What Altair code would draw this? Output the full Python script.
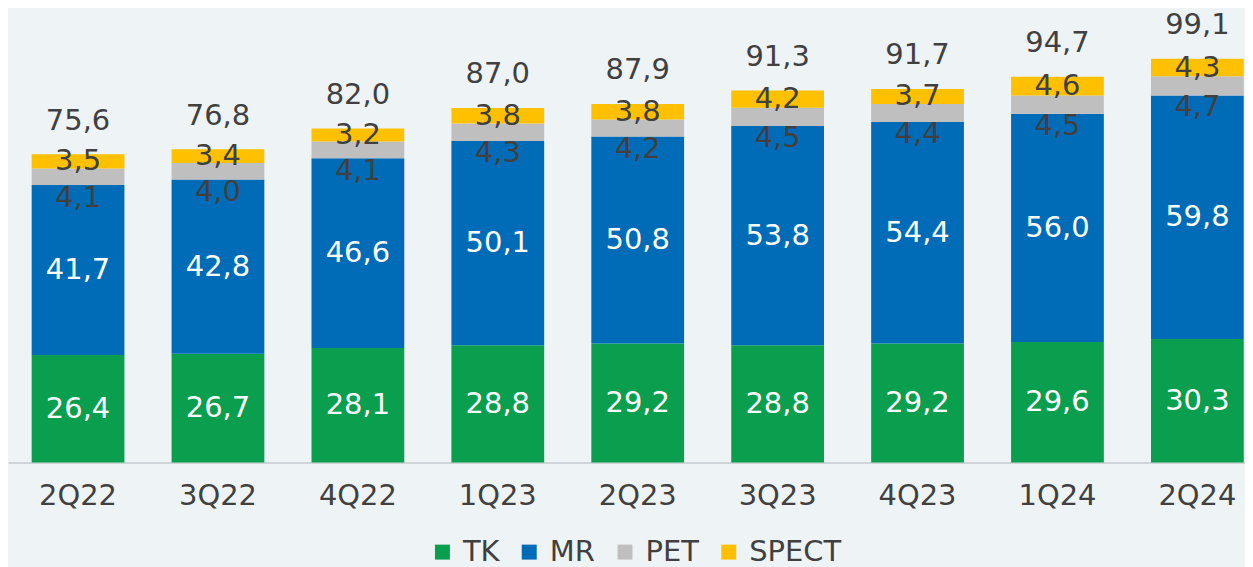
import altair as alt
import pandas as pd

quarters = ["2Q22", "3Q22", "4Q22", "1Q23", "2Q23", "3Q23", "4Q23", "1Q24", "2Q24"]
series = ["TK", "MR", "PET", "SPECT"]
tk = [26.4, 26.7, 28.1, 28.8, 29.2, 28.8, 29.2, 29.6, 30.3]
mr = [41.7, 42.8, 46.6, 50.1, 50.8, 53.8, 54.4, 56.0, 59.8]
pet = [4.1, 4.0, 4.1, 4.3, 4.2, 4.5, 4.4, 4.5, 4.7]
spect = [3.5, 3.4, 3.2, 3.8, 3.8, 4.2, 3.7, 4.6, 4.3]
totals = [75.6, 76.8, 82.0, 87.0, 87.9, 91.3, 91.7, 94.7, 99.1]
colors = ["#0a9f4f", "#006cb7", "#bfbfbf", "#ffc000"]

FONT = "DejaVu Sans"
TXT = "#404040"
FS = 29

rows = []
for s_i, (name, vals) in enumerate(zip(series, [tk, mr, pet, spect])):
    for q, v in zip(quarters, vals):
        rows.append({"q": q, "series": name, "idx": s_i, "value": v})
df = pd.DataFrame(rows)
tot_df = pd.DataFrame({"q": quarters, "total": totals})

xenc = alt.X("q:N", sort=quarters, title=None,
             scale=alt.Scale(paddingInner=0.337, paddingOuter=0.089, align=0.95),
             axis=alt.Axis(labelFontSize=FS, labelColor=TXT, labelFont=FONT, labelAngle=0,
                           ticks=False, domainColor="#cfd4d8", domainWidth=2,
                           labelPadding=19, grid=False))
yscale = alt.Scale(domain=[0, 111.4], nice=False)

base = alt.Chart(df)

bars = base.mark_bar().encode(
    x=xenc,
    y=alt.Y("value:Q", stack="zero", scale=yscale, axis=None),
    color=alt.Color("series:N", sort=series,
                    scale=alt.Scale(domain=series, range=colors),
                    legend=alt.Legend(title=None, orient="none", legendX=421, legendY=530,
                                      direction="horizontal", symbolType="square",
                                      symbolSize=225, symbolStrokeWidth=0, padding=0,
                                      labelFontSize=FS, labelColor=TXT, labelFont=FONT,
                                      labelOffset=6, columnPadding=15)),
    order=alt.Order("idx:Q", sort="ascending"),
)

stacked = base.transform_stack(
    stack="value", groupby=["q"], as_=["y0", "y1"], sort=[alt.SortField("idx", order="ascending")]
).transform_calculate(
    mid="(datum.y0 + datum.y1) / 2",
    label="replace(format(datum.value, '.1f'), '.', ',')",
)

def lbl(filt, color, dy=0):
    return stacked.transform_filter(filt).mark_text(
        font=FONT, fontSize=FS, color=color, baseline="middle", dy=dy
    ).encode(
        x=alt.X("q:N", sort=quarters),
        y=alt.Y("mid:Q", scale=yscale),
        text="label:N",
    )

white_lbl = lbl("datum.series == 'TK' || datum.series == 'MR'", "white")
pet_lbl = lbl("datum.series == 'PET'", TXT, dy=21)
spect_lbl = lbl("datum.series == 'SPECT'", TXT)

tot_lbl = alt.Chart(tot_df).transform_calculate(
    label="replace(format(datum.total, '.1f'), '.', ',')"
).mark_text(font=FONT, fontSize=FS, color=TXT, baseline="middle", dy=-34).encode(
    x=alt.X("q:N", sort=quarters),
    y=alt.Y("total:Q", scale=yscale),
    text="label:N",
)

chart = alt.layer(bars, white_lbl, pet_lbl, spect_lbl, tot_lbl).properties(
    width=1240, height=455, padding=0
).configure(background="#eef3f6").configure_view(stroke=None)

chart.save("out.html", embed_options={"renderer": "svg", "actions": False})
